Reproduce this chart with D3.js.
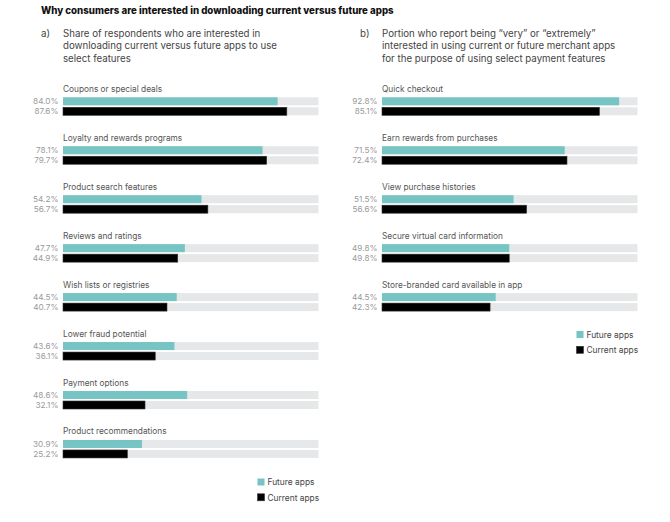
<!DOCTYPE html>
<html><head><meta charset="utf-8">
<script src="https://cdn.jsdelivr.net/npm/d3@7"></script>
<style>
body{margin:0;background:#fff;}
svg text{font-family:Inter,"Open Sans",sans-serif;}
</style></head>
<body>
<svg id="c" width="670" height="522"></svg>
<script>
const title = "Why consumers are interested in downloading current versus future apps";
const subA = ["Share of respondents who are interested in","downloading current versus future apps to use","select features"];
const subB = ["Portion who report being \u201cvery\u201d or \u201cextremely\u201d","interested in using current or future merchant apps","for the purpose of using select payment features"];
const catsA = ["Coupons or special deals","Loyalty and rewards programs","Product search features","Reviews and ratings","Wish lists or registries","Lower fraud potential","Payment options","Product recommendations"];
const futureA = [84.0,78.1,54.2,47.7,44.5,43.6,48.6,30.9];
const currentA = [87.6,79.7,56.7,44.9,40.7,36.1,32.1,25.2];
const catsB = ["Quick checkout","Earn rewards from purchases","View purchase histories","Secure virtual card information","Store-branded card available in app"];
const futureB = [92.8,71.5,51.5,49.8,44.5];
const currentB = [85.1,72.4,56.6,49.8,42.3];
const seriesNames = ["Future apps","Current apps"];
const colors = {future:"#76c4c3", current:"#000000", track:"#e6e7e8"};

const svg = d3.select("#c");
svg.append("text").attr("x",41).attr("y",14).attr("font-size",9.7).attr("font-weight",800).attr("fill","#111").text(title);

function panel(x0, letter, sub, cats, fut, cur, legendY, legendX){
  const g = svg.append("g");
  g.append("text").attr("x",x0-22).attr("y",37).attr("font-size",9.8).attr("fill","#444").text(letter);
  sub.forEach((s,i)=>g.append("text").attr("x",x0).attr("y",37+i*12.3).attr("font-size",9.7).attr("fill","#444").text(s));
  const x = d3.scaleLinear().domain([0,100]).range([x0, x0+255.5]);
  const y = d3.scaleLinear().domain([0,1]).range([97.3, 97.3+48.95]);
  cats.forEach((c,i)=>{
    const yy = y(i);
    g.append("text").attr("x",x0).attr("y",yy-5.5).attr("font-size",8.3).attr("fill","#555").text(c);
    [[fut[i],colors.future,0],[cur[i],colors.current,10]].forEach(([v,col,off])=>{
      g.append("rect").attr("x",x(0)).attr("y",yy+off).attr("width",x(100)-x(0)).attr("height",8).attr("fill",colors.track);
      g.append("rect").attr("x",x(0)).attr("y",yy+off).attr("width",x(v)-x(0)).attr("height",8).attr("fill",col)
        .attr("stroke", off? "#333":"none").attr("stroke-width",off?0.6:0);
      g.append("text").attr("x",x0-4.5).attr("y",yy+off+7).attr("text-anchor","end").attr("font-size",8.2).attr("fill","#9a9a9a").text(v.toFixed(1)+"%");
    });
  });
  seriesNames.forEach((n,i)=>{
    const ly = legendY + i*15.3;
    g.append("rect").attr("x",legendX).attr("y",ly).attr("width",7).attr("height",7)
      .attr("fill", i?colors.current:colors.future).attr("stroke", i?"#333":"none").attr("stroke-width",0.6);
    g.append("text").attr("x",legendX+10).attr("y",ly+6.8).attr("font-size",8.4).attr("fill","#444").text(n);
  });
}
panel(63, "a)", subA, catsA, futureA, currentA, 478.5, 257.5);
panel(382, "b)", subB, catsB, futureB, currentB, 331, 576.5);
</script>
</body></html>
